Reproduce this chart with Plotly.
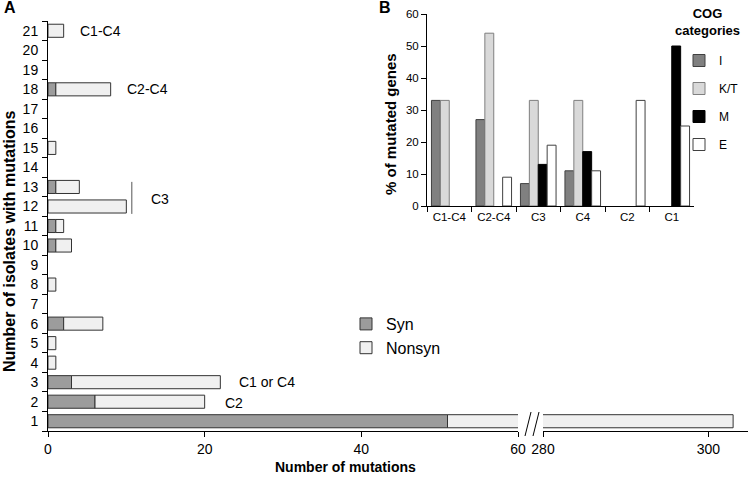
import plotly.graph_objects as go

# ---------------- Panel A data ----------------
isolates = [str(i) for i in range(1, 22)]
syn =    [51, 6, 3, 0, 0, 2, 0, 0, 0, 1, 1, 0, 1, 0, 0, 0, 0, 1, 0, 0, 0]
nonsyn = [252, 14, 19, 1, 1, 5, 0, 1, 0, 2, 1, 10, 3, 0, 1, 0, 0, 7, 0, 0, 2]
a_xticks_left = [0, 20, 40, 60]
a_xticks_right = [280, 300]

# ---------------- Panel B data ----------------
cog_groups = ["C1-C4", "C2-C4", "C3", "C4", "C2", "C1"]
cog_I =  [33, 27, 7, 11, 0, 0]
cog_KT = [33, 54, 33, 33, 0, 0]
cog_M =  [0, 0, 13, 17, 0, 50]
cog_E =  [0, 9, 19, 11, 33, 25]

FONT = "Liberation Sans, Arial, sans-serif"
W, H = 750, 480
ML, MR, MT, MB = 48, 2, 10, 49
PW = W - ML - MR
PH = H - MT - MB


def px(xp):
    return (xp - ML) / PW


def py(yp):
    return (H - MB - yp) / PH


def nz(vals):
    # zero-length bars are not drawn at all
    return [v if v else None for v in vals]


fig = go.Figure()

syn_col, non_col, edge = "#9c9c9c", "#f0f0f0", "#333333"
bw = 0.67

for xa, show in (("x", True), ("x2", False)):
    fig.add_trace(go.Bar(
        y=isolates, x=nz(syn), orientation="h", name="Syn",
        marker=dict(color=syn_col, line=dict(color=edge, width=1)),
        width=bw, offset=-bw / 2, xaxis=xa, yaxis="y",
        showlegend=show, legend="legend", hoverinfo="skip"))
    fig.add_trace(go.Bar(
        y=isolates, x=nz(nonsyn), base=syn, orientation="h", name="Nonsyn",
        marker=dict(color=non_col, line=dict(color=edge, width=1)),
        width=bw, offset=-bw / 2, xaxis=xa, yaxis="y",
        showlegend=show, legend="legend", hoverinfo="skip"))

b_series = [
    ("I", cog_I, "#808080", "#404040"),
    ("K/T", cog_KT, "#d9d9d9", "#7f7f7f"),
    ("M", cog_M, "#000000", "#000000"),
    ("E", cog_E, "#ffffff", "#404040"),
]
for name, vals, fc, lc in b_series:
    fig.add_trace(go.Bar(
        x=cog_groups, y=nz(vals), name=name, xaxis="x3", yaxis="y3",
        marker=dict(color=fc, line=dict(color=lc, width=1)),
        legend="legend2", legendgroup=name, hoverinfo="skip"))

axis_common = dict(showline=True, linecolor="black", linewidth=1, ticks="outside",
                   ticklen=5, tickcolor="black", tickwidth=1, showgrid=False,
                   zeroline=False, automargin=False)

fig.update_layout(
    width=W, height=H,
    margin=dict(l=ML, r=MR, t=MT, b=MB, autoexpand=False),
    paper_bgcolor="white", plot_bgcolor="rgba(0,0,0,0)",
    font=dict(family=FONT, color="black", size=14),
    barmode="group", bargap=0.2, bargroupgap=0,
    xaxis=dict(domain=[0, px(518)], range=[0, 60], tickvals=a_xticks_left,
               anchor="y", tickfont=dict(size=14), **axis_common),
    xaxis2=dict(domain=[px(543), 1], range=[280, 304.8], tickvals=a_xticks_right,
                anchor="y", tickfont=dict(size=14), **axis_common),
    yaxis=dict(domain=[0, py(21)], type="category", categoryorder="array",
               categoryarray=isolates, range=[-0.5, 20.5], tickson="boundaries",
               anchor="x", tickfont=dict(size=14), ticklabelstandoff=6, **axis_common),
    xaxis3=dict(domain=[px(427), px(694)], type="category", tickson="boundaries",
                anchor="y3", tickangle=0, tickfont=dict(size=11.5), **axis_common),
    yaxis3=dict(domain=[py(206), py(14)], range=[0, 60], dtick=10, anchor="x3",
                tickfont=dict(size=11.5), **axis_common),
    legend=dict(x=px(346), y=py(307), xanchor="left", yanchor="top",
                font=dict(size=16), bgcolor="rgba(0,0,0,0)", traceorder="normal"),
    legend2=dict(x=px(679), y=py(46), xanchor="left", yanchor="top",
                 font=dict(size=12), bgcolor="rgba(0,0,0,0)", traceorder="grouped",
                 tracegroupgap=9),
)

ann = []


def note(text, x, y, xref="paper", yref="paper", size=14, xanchor="center", angle=0):
    ann.append(dict(text=text, xref=xref, yref=yref, x=x, y=y, showarrow=False,
                    xanchor=xanchor, yanchor="middle", textangle=angle,
                    font=dict(size=size)))


# axis titles
note("<b>Number of mutations</b>", px(345), py(467), size=14)
note("<b>Number of isolates with mutations</b>", px(9), py(242), size=16, angle=-90)
note("<b>% of mutated genes</b>", px(390), py(124), size=15, angle=-90)
# legend title of panel B
note("<b>COG<br>categories</b>", px(707), py(22), size=13)
# panel letters
note("<b>A</b>", px(2), py(8), size=16, xanchor="left")
note("<b>B</b>", px(377), py(8), size=16, xanchor="left")
# group labels in panel A (category index on y)
for txt, xv, yv in (("C1-C4", 3.8, 20), ("C2-C4", 9.8, 17), ("C3", 12.9, 11.4),
                    ("C1 or C4", 24.1, 2), ("C2", 22.3, 0.93)):
    note(txt, xv, yv, xref="x", yref="y", size=14, xanchor="left")
fig.update_layout(annotations=ann)

shapes = [
    dict(type="line", xref="x", yref="y", x0=10.7, x1=10.7, y0=10.62, y1=12.26,
         line=dict(color="#555555", width=1)),
    # axis break marks
    dict(type="line", xref="paper", yref="paper", x0=px(525), y0=py(436), x1=px(531), y1=py(412),
         line=dict(color="black", width=1)),
    dict(type="line", xref="paper", yref="paper", x0=px(533), y0=py(436), x1=px(539), y1=py(412),
         line=dict(color="black", width=1)),
]
fig.update_layout(shapes=shapes)

fig.write_html("out.html", config={"displayModeBar": False},
               post_script="document.body.style.margin='0';")
